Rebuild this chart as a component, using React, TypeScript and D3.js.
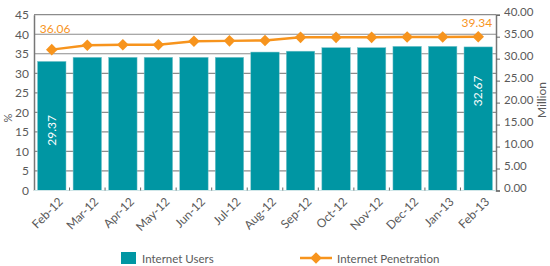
import { useEffect, useRef } from 'react';
import * as d3 from 'd3';

const months = ['Feb-12', 'Mar-12', 'Apr-12', 'May-12', 'Jun-12', 'Jul-12', 'Aug-12',
  'Sep-12', 'Oct-12', 'Nov-12', 'Dec-12', 'Jan-13', 'Feb-13'];
// Internet users, million (right axis)
const users = [29.37, 30.3, 30.3, 30.3, 30.3, 30.3, 31.5, 31.7, 32.5, 32.5, 32.8, 32.8, 32.67];
// Internet penetration, % (left axis)
const penetration = [36.06, 37.2, 37.3, 37.3, 38.2, 38.3, 38.4, 39.2, 39.2, 39.2, 39.3, 39.3, 39.34];
const leftTicks = [0, 5, 10, 15, 20, 25, 30, 35, 40, 45];
const rightTicks = [0, 5, 10, 15, 20, 25, 30, 35, 40];

const TEAL = '#0096a3';
const ORANGE = '#f7941d';
const GREY = '#5a5a5a';
const FONT = 'Lato, "Open Sans", sans-serif';

export default function App() {
  const svgRef = useRef<SVGSVGElement>(null);

  useEffect(() => {
    if (!svgRef.current) return;
    const svg = d3.select(svgRef.current);
    svg.selectAll('*').remove();

    const W = 550, H = 266;
    const left = 34, right = 496, top = 14.7, bottom = 190.5;
    svg.attr('width', W).attr('height', H);

    const x = d3.scaleBand().domain(months).range([left, right])
      .paddingInner(0.2).paddingOuter(0.1);
    const yL = d3.scaleLinear().domain([0, 45]).range([bottom, top]);
    const yR = d3.scaleLinear().domain([0, 40]).range([bottom, top]);

    // gridlines
    svg.append('g').selectAll('line').data(leftTicks).enter().append('line')
      .attr('x1', left).attr('x2', right)
      .attr('y1', d => yL(d)).attr('y2', d => yL(d))
      .attr('stroke', '#8c8c8c').attr('stroke-width', 1.2);

    // left axis
    const gl = svg.append('g').attr('transform', `translate(${left},0)`)
      .call(d3.axisLeft(yL).tickValues(leftTicks).tickSize(0).tickPadding(5));
    gl.select('.domain').attr('stroke', '#777').attr('stroke-width', 1.5);
    gl.selectAll('text').attr('fill', GREY).attr('font-size', '12px').attr('font-family', FONT);

    // right axis
    const gr = svg.append('g').attr('transform', `translate(${right},0)`)
      .call(d3.axisRight(yR).tickValues(rightTicks).tickSize(4).tickPadding(4)
        .tickFormat(d => d3.format('.2f')(d as number)));
    gr.select('.domain').attr('stroke', '#777').attr('stroke-width', 1.5);
    gr.selectAll('line').attr('stroke', '#666');
    gr.selectAll('text').attr('fill', GREY).attr('font-size', '11.5px').attr('font-family', FONT)
      .attr('dy', '0.1em');

    // bars
    svg.append('g').selectAll('rect').data(users).enter().append('rect')
      .attr('x', (_, i) => x(months[i])!)
      .attr('width', x.bandwidth())
      .attr('y', d => yR(d))
      .attr('height', d => bottom - yR(d))
      .attr('fill', TEAL)
      .attr('stroke', '#7cc5cc').attr('stroke-width', 0.5);

    // bottom baseline and category ticks
    svg.append('line').attr('x1', left).attr('x2', right)
      .attr('y1', bottom).attr('y2', bottom)
      .attr('stroke', '#cfe6e8').attr('stroke-width', 1);
    const step = x.step();
    svg.append('g').selectAll('line').data(months.slice(1)).enter().append('line')
      .attr('x1', d => x(d)! - step * 0.1).attr('x2', d => x(d)! - step * 0.1)
      .attr('y1', bottom - 3).attr('y2', bottom)
      .attr('stroke', '#666').attr('stroke-width', 1);

    // x labels
    svg.append('g').selectAll('text').data(months).enter().append('text')
      .attr('transform', d => `translate(${x(d)! + x.bandwidth() / 2 + 9},${bottom + 9}) rotate(-45)`)
      .attr('text-anchor', 'end')
      .attr('dy', '0.35em')
      .attr('fill', GREY).attr('font-size', '12px').attr('font-family', FONT)
      .text(d => d);

    // penetration line
    const cx = (i: number) => x(months[i])! + x.bandwidth() / 2;
    const line = d3.line<number>().x((_, i) => cx(i)).y(d => yL(d));
    svg.append('path').datum(penetration)
      .attr('d', line).attr('fill', 'none')
      .attr('stroke', ORANGE).attr('stroke-width', 2.5);
    const diamond = d3.symbol().type(d3.symbolDiamond2).size(85);
    svg.append('g').selectAll('path').data(penetration).enter().append('path')
      .attr('d', diamond)
      .attr('transform', (d, i) => `translate(${cx(i)},${yL(d)}) rotate(0)`)
      .attr('fill', ORANGE);

    // value labels on the line
    const last = penetration.length - 1;
    svg.append('text').attr('x', cx(0) - 12).attr('y', yL(penetration[0]) - 17)
      .attr('fill', ORANGE).attr('font-size', '12px').attr('font-family', FONT)
      .text(penetration[0].toFixed(2));
    svg.append('text').attr('x', cx(last) + 14).attr('y', yL(penetration[last]) - 10)
      .attr('text-anchor', 'end')
      .attr('fill', ORANGE).attr('font-size', '12px').attr('font-family', FONT)
      .text(penetration[last].toFixed(2));

    // value labels in bars
    const ul = users.length - 1;
    svg.append('text')
      .attr('transform', `translate(${cx(0) + 4},${yR(users[0]) + 69}) rotate(-90)`)
      .attr('text-anchor', 'middle')
      .attr('fill', '#fff').attr('font-size', '12px').attr('font-family', FONT)
      .text(users[0].toFixed(2));
    svg.append('text')
      .attr('transform', `translate(${cx(ul) + 4},${yR(users[ul]) + 44}) rotate(-90)`)
      .attr('text-anchor', 'middle')
      .attr('fill', '#fff').attr('font-size', '12px').attr('font-family', FONT)
      .text(users[ul].toFixed(2));

    // axis titles
    svg.append('text').attr('transform', `translate(12,118) rotate(-90)`)
      .attr('text-anchor', 'middle')
      .attr('fill', GREY).attr('font-size', '11px').attr('font-family', FONT).text('%');
    svg.append('text').attr('transform', `translate(546,100) rotate(-90)`)
      .attr('text-anchor', 'middle')
      .attr('fill', GREY).attr('font-size', '12px').attr('font-family', FONT).text('Million');

    // legend
    const lg = svg.append('g');
    lg.append('rect').attr('x', 121).attr('y', 252).attr('width', 15).attr('height', 12).attr('fill', TEAL);
    lg.append('text').attr('x', 142).attr('y', 262.5)
      .attr('fill', GREY).attr('font-size', '11.5px').attr('font-family', FONT).text('Internet Users');
    lg.append('line').attr('x1', 300).attr('x2', 332).attr('y1', 258).attr('y2', 258)
      .attr('stroke', ORANGE).attr('stroke-width', 2.5);
    lg.append('path').attr('d', diamond).attr('transform', 'translate(316,258)').attr('fill', ORANGE);
    lg.append('text').attr('x', 337).attr('y', 262.5)
      .attr('fill', GREY).attr('font-size', '11.5px').attr('font-family', FONT).text('Internet Penetration');
  }, []);

  return (
    <div style={{ position: 'absolute', left: 0, top: 0 }}>
      <svg ref={svgRef} style={{ display: 'block' }} />
    </div>
  );
}
